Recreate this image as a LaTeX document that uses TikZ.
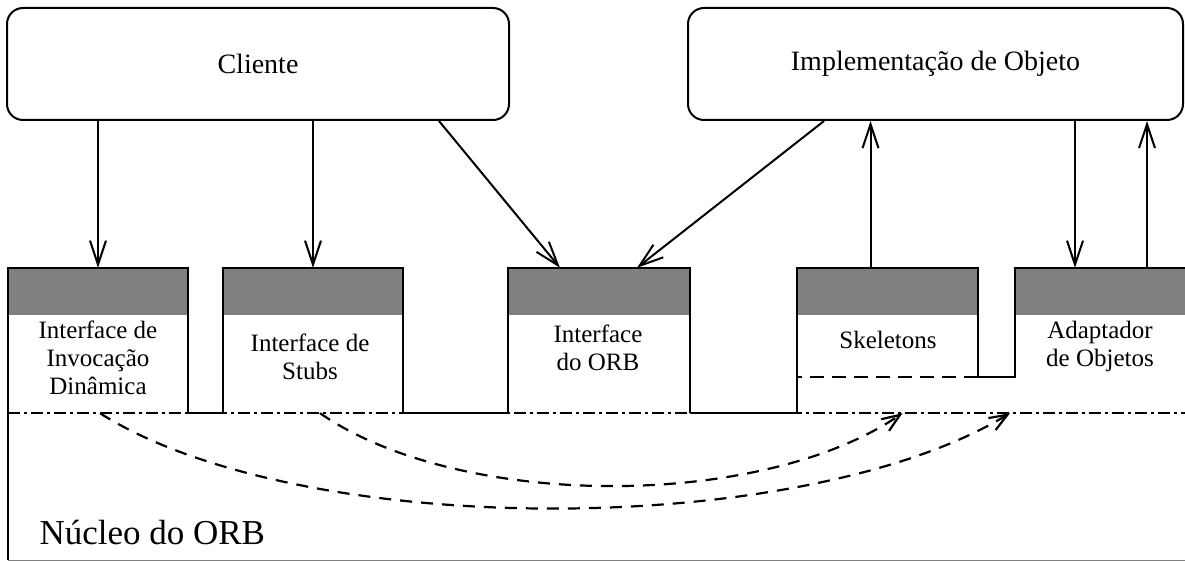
\documentclass[tikz,border=0pt]{standalone}
\usepackage{fontspec}
\setmainfont{Liberation Serif}
\usetikzlibrary{arrows.meta}
\begin{document}
\begin{tikzpicture}[x=1pt, y=-1pt,
		actor/.style = {draw, rounded corners=16pt, line width=2pt, minimum height=112pt, font=\fontsize{28}{32}\selectfont},
		unit/.style = {minimum height=145pt, inner sep=0pt},
		lbl/.style = {align=center, font=\fontsize{25}{28}\selectfont},
		wall/.style = {line width=2pt},
		base/.style = {line width=1.8pt, dash pattern=on 12pt off 4pt on 3pt off 4pt},
		call/.style = {-{Straight Barb[length=24pt,width=16pt]}, line width=2pt},
		flow/.style = {-{Straight Barb[length=18pt,width=14pt]}, line width=2.2pt, dash pattern=on 12pt off 9pt}]
		\useasboundingbox (0,0) rectangle (1185,561);
		\node[actor, minimum width=502pt] (cli) at (258,64) {Cliente};
		\node[actor, minimum width=495pt] (impl) at (935.5,64) {Implementação de Objeto};
		\node[unit, minimum width=180pt] (dii) at (98,340.5) {};
		\node[unit, minimum width=180pt] (stub) at (313,340.5) {};
		\node[unit, minimum width=182pt] (orbi) at (599,340.5) {};
		\node[unit, minimum width=181pt] (skel) at (887.5,340.5) {};
		\node[unit, minimum width=170pt] (adap) at (1100,340.5) {};
		\node[minimum width=1177pt, minimum height=147pt, inner sep=0pt] (core) at (596.5,486.5) {};
		\foreach \n in {dii,stub,orbi,skel,adap}
			\fill[black!50] (\n.north west) rectangle ([yshift=-47pt]\n.north east);
		\node[lbl] (diiTxt) at (98,357.5) {Interface de\\Invocação\\Dinâmica};
		\node[lbl] (stubTxt) at (310,356.5) {Interface de\\Stubs};
		\node[lbl] (orbiTxt) at (598,348) {Interface\\do ORB};
		\node[lbl] (skelTxt) at (888,340) {Skeletons};
		\node[lbl] (adapTxt) at (1100,346) {Adaptador\\de Objetos};
		\node[font=\fontsize{35}{40}\selectfont, anchor=west] (coreTxt) at (36,532) {Núcleo do ORB};
		\draw[wall] (dii.south west) |- (dii.north east) -- (dii.south east);
		\draw[wall] (stub.south west) |- (stub.north east) -- (stub.south east);
		\draw[wall] (orbi.south west) |- (orbi.north east) -- (orbi.south east);
		\draw[wall] (skel.south west) |- (skel.north east) -- ++(0,109) coordinate (ledge) -- (ledge -| adap.west) |- (adap.north east);
		\draw[wall, dash pattern=on 14pt off 8pt] (ledge) -- (ledge -| skel.west);
		\draw[base] (core.north west) -- (core.north east);
		\draw[wall] (dii.south east) -- (stub.south west);
		\draw[wall] (stub.south east) -- (orbi.south west);
		\draw[wall] (orbi.south east) -- (skel.south west);
		\draw[wall] (core.north west) -- (core.south west);
		\draw[line width=1pt, black!50] (core.south west) -- (core.south east);
		\coordinate (cliOut) at ([xshift=-71pt]cli.south east);
		\coordinate (implOut) at ([xshift=137pt]impl.south west);
		\coordinate (skelUp) at ([xshift=-17pt]skel.north);
		\coordinate (adapIn) at ([xshift=-25pt]adap.north);
		\coordinate (adapUp) at ([xshift=47pt]adap.north);
		\draw[call] (dii.north |- cli.south) -- (dii.north);
		\draw[call] (stub.north |- cli.south) -- (stub.north);
		\draw[call] (cliOut) -- ([xshift=-39pt]orbi.north);
		\draw[call] (implOut) -- ([xshift=38pt]orbi.north);
		\draw[call] (skelUp) -- (skelUp |- impl.south);
		\draw[call] (adapIn |- impl.south) -- (adapIn);
		\draw[call] (adapUp) -- (adapUp |- impl.south);
		\draw[flow] ([xshift=7pt]stub.south) .. controls (460,510) and (760,510) .. ([xshift=15pt]skel.south);
		\draw[flow] ([xshift=2pt]dii.south) .. controls (300,540) and (800,540) .. ([xshift=-90pt]adap.south);
	\end{tikzpicture}
\end{document}
